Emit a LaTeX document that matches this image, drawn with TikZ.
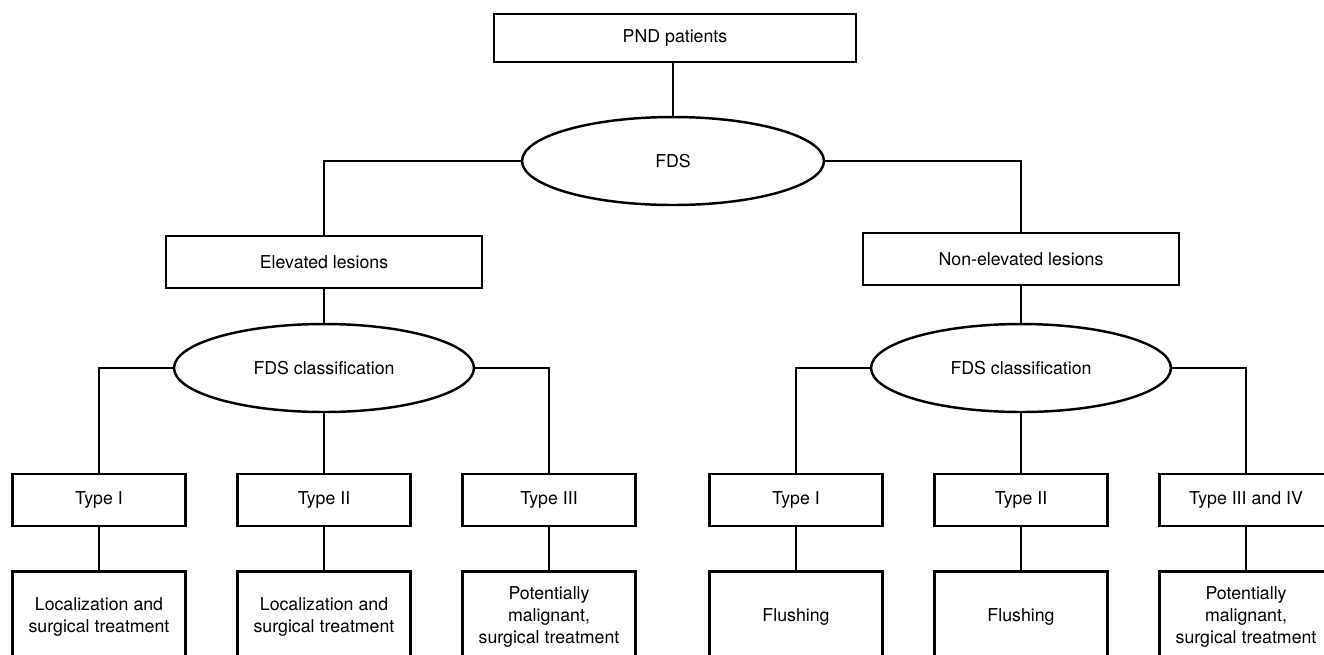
\documentclass[tikz,border=0pt]{standalone}
\usepackage{fontspec}
\setmainfont{TeX Gyre Heros}
\usetikzlibrary{shapes.geometric, positioning}

\begin{document}
\begin{tikzpicture}[
    x=0.02cm, y=-0.02cm,
    every node/.style={font=\fontsize{10.1}{12.6}\selectfont},
    box/.style={draw, line width=1.4pt, minimum width=6.32cm, minimum height=1.04cm, align=center},
    typebox/.style={draw, line width=1.4pt, minimum width=3.46cm, minimum height=1.04cm, align=center},
    resbox/.style={draw, line width=1.4pt, minimum width=3.46cm, minimum height=1.74cm, align=center, text depth=0pt},
    oval/.style={draw, ellipse, line width=1.4pt, inner sep=0pt, minimum width=6cm, minimum height=1.76cm},
    link/.style={line width=1.4pt},
]
\useasboundingbox (0,0) rectangle (1324,654);
\clip (0,0) rectangle (1324,654);

\node[draw, line width=1.4pt, minimum width=7.24cm, minimum height=0.96cm] (pnd) at (675,38) {PND patients};
\node[oval, minimum width=6.04cm] (fds) at (673,161) {FDS};

\node[box] (elev) at (324,262) {Elevated lesions};
\node[box] (nonelev) at (1021,259) {Non-elevated lesions};

\node[oval] (clsL) at (324,368) {FDS classification};
\node[oval] (clsR) at (1021,368) {FDS classification};

% elevated side
\node[typebox] (tL1) at (99,500) {Type I};
\node[typebox] (tL2) at (324,500) {Type II};
\node[typebox] (tL3) at (549,500) {Type III};
\node[resbox] (rL1) at (99,615) {Localization and\\surgical treatment};
\node[resbox] (rL2) at (324,615) {Localization and\\surgical treatment};
\node[resbox] (rL3) at (549,615) {Potentially\\malignant,\\surgical treatment};

% non-elevated side
\node[typebox] (tR1) at (796,500) {Type I};
\node[typebox] (tR2) at (1021,500) {Type II};
\node[typebox] (tR3) at (1246,500) {Type III and IV};
\node[resbox] (rR1) at (796,615) {Flushing};
\node[resbox] (rR2) at (1021,615) {Flushing};
\node[resbox] (rR3) at (1246,615) {Potentially\\malignant,\\surgical treatment};

\draw[link] (pnd.south -| fds.north) -- (fds.north);
\draw[link] (fds.west) -| (elev.north);
\draw[link] (fds.east) -| (nonelev.north);
\draw[link] (elev) -- (clsL);
\draw[link] (nonelev) -- (clsR);

\draw[link] (clsL.west) -| (tL1.north);
\draw[link] (clsL) -- (tL2);
\draw[link] (clsL.east) -| (tL3.north);
\draw[link] (clsR.west) -| (tR1.north);
\draw[link] (clsR) -- (tR2);
\draw[link] (clsR.east) -| (tR3.north);

\foreach \t/\r in {tL1/rL1, tL2/rL2, tL3/rL3, tR1/rR1, tR2/rR2, tR3/rR3}
    \draw[link] (\t) -- (\r);

\end{tikzpicture}
\end{document}
